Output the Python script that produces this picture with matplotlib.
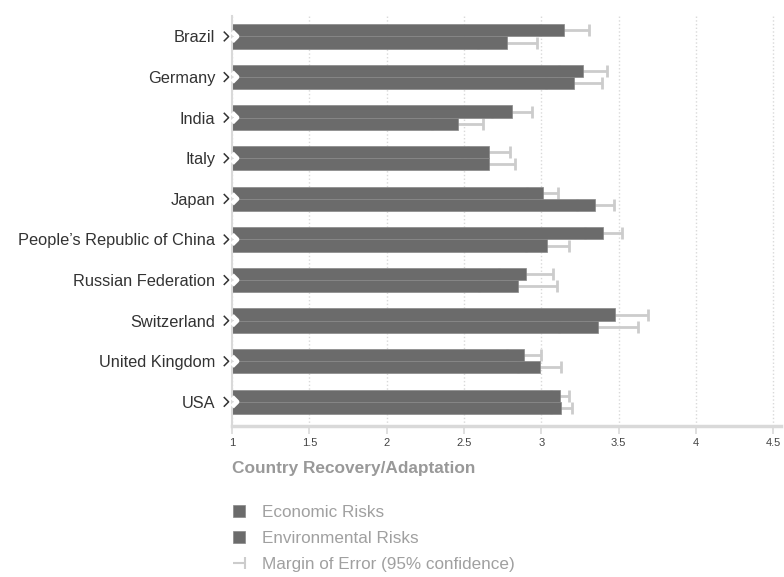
import matplotlib.pyplot as plt
import numpy as np
from matplotlib.patches import Patch
from matplotlib.lines import Line2D
from matplotlib.path import Path
import matplotlib.patheffects as pe

plt.rcParams['font.family'] = ['Liberation Sans', 'DejaVu Sans']

countries = ['Brazil', 'Germany', 'India', 'Italy', 'Japan',
             "People\u2019s Republic of China", 'Russian Federation',
             'Switzerland', 'United Kingdom', 'USA']
economic = [3.15, 3.27, 2.81, 2.66, 3.01, 3.40, 2.90, 3.48, 2.89, 3.12]
economic_err = [0.16, 0.155, 0.13, 0.135, 0.10, 0.12, 0.175, 0.21, 0.11, 0.06]
environmental = [2.78, 3.21, 2.46, 2.66, 3.35, 3.04, 2.85, 3.37, 2.99, 3.13]
environmental_err = [0.19, 0.18, 0.165, 0.17, 0.12, 0.14, 0.25, 0.255, 0.14, 0.07]
xticks = [1, 1.5, 2, 2.5, 3, 3.5, 4, 4.5]

bar_color = '#6b6b6b'
err_color = '#cccccc'
grid_color = '#d9d9d9'

fig = plt.figure(figsize=(7.84, 5.77), dpi=100)
ax = fig.add_axes([0.296, 0.262, 0.70, 0.710])

y = np.arange(len(countries))
h = 0.3

# error bars under the bars, so only the right half shows
ax.errorbar(economic, y - h / 2, xerr=economic_err, fmt='none', ecolor=err_color,
            elinewidth=2, capsize=4, capthick=2, zorder=1)
ax.errorbar(environmental, y + h / 2, xerr=environmental_err, fmt='none', ecolor=err_color,
            elinewidth=2, capsize=4, capthick=2, zorder=1)

ax.barh(y - h / 2, np.array(economic) - 1, left=1, height=h, color=bar_color,
        edgecolor='#888888', linewidth=0.5, zorder=2)
ax.barh(y + h / 2, np.array(environmental) - 1, left=1, height=h, color=bar_color,
        edgecolor='#888888', linewidth=0.5, zorder=2)

# chevrons next to the category labels
chev = Path([(-0.5, 1), (0.5, 0), (-0.5, -1)], [Path.MOVETO, Path.LINETO, Path.LINETO])
for yi in y:
    ax.plot([0.962], [yi], marker=chev, ms=7, mfc='none', mec='#333333', mew=1.1,
            linestyle='none', clip_on=False, zorder=5,
            path_effects=[pe.Stroke(offset=(6, 0), linewidth=3.5, foreground='white'),
                          pe.Normal()])

ax.set_xlim(1, 4.55)
ax.set_ylim(len(countries) - 0.41, -0.5)
ax.set_xticks(xticks)
ax.set_xticklabels([f'{t:g}' for t in xticks], fontsize=8, color='#444444')
ax.set_yticks(y)
ax.set_yticklabels(countries, fontsize=11.8, color='#333333')
ax.tick_params(axis='y', length=0, pad=12)
ax.tick_params(axis='x', length=6, width=1.2, color=grid_color, pad=3)

ax.grid(axis='x', color=grid_color, linestyle=':', linewidth=1, zorder=0)
ax.set_axisbelow(True)
for s in ['top', 'right']:
    ax.spines[s].set_visible(False)
ax.spines['left'].set_color(grid_color)
ax.spines['left'].set_linewidth(1.5)
ax.spines['bottom'].set_color(grid_color)
ax.spines['bottom'].set_linewidth(2.5)

ax.set_xlabel('Country Recovery/Adaptation', fontsize=12.4, fontweight='bold',
              color='#999999', loc='left', labelpad=9)

err_marker = Path([(-1, 0), (1, 0), (1, -1), (1, 1)],
                  [Path.MOVETO, Path.LINETO, Path.MOVETO, Path.LINETO])
handles = [Patch(facecolor=bar_color, edgecolor='#888888', linewidth=0.5),
           Patch(facecolor=bar_color, edgecolor='#888888', linewidth=0.5),
           Line2D([0], [0], marker=err_marker, ms=9, mec=err_color, mew=1.5, linestyle='none')]
labels = ['Economic Risks', 'Environmental Risks', 'Margin of Error (95% confidence)']
fig.legend(handles, labels, loc='upper left', bbox_to_anchor=(0.288, 0.137),
           frameon=False, fontsize=12.3, labelcolor='#a0a0a0', handlelength=0.72,
           handleheight=0.72, handletextpad=1.0, labelspacing=0.64, borderaxespad=0)

fig.savefig('out.png', dpi=100)
